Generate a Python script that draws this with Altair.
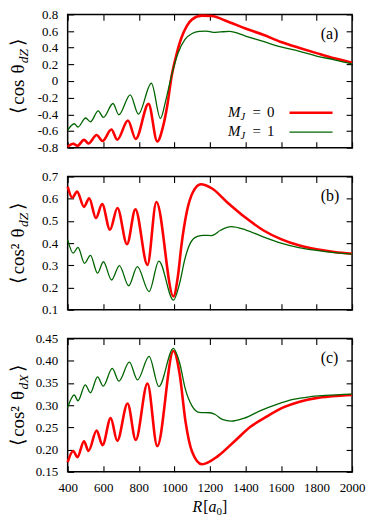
import altair as alt
import pandas as pd

# ---------------- data ----------------
XTICKS = [400, 600, 800, 1000, 1200, 1400, 1600, 1800, 2000]

# panel (a)  <cos theta_dZ>
A_R_RED = [400, 431, 455, 492, 517, 563, 596, 646, 679, 739, 783, 855, 904, 935, 960, 985,
           1010, 1040, 1070, 1100, 1155, 1210, 1300, 1400, 1500, 1600, 1700, 1800, 1900, 2000]
A_V_RED = [-0.79, -0.753, -0.778, -0.707, -0.75, -0.649, -0.72, -0.583, -0.705, -0.475, -0.695,
           -0.274, -0.726, -0.56, -0.30, 0.06, 0.30, 0.52, 0.66, 0.74, 0.785, 0.78, 0.715, 0.63,
           0.555, 0.468, 0.40, 0.335, 0.272, 0.22]
A_R_GRN = [400, 437, 458, 501, 528, 572, 601, 655, 688, 752, 798, 871, 922, 950, 986, 1020,
           1060, 1100, 1140, 1180, 1220, 1260, 1310, 1400, 1500, 1600, 1700, 1800, 1900, 2000]
A_V_GRN = [-0.59, -0.513, -0.552, -0.444, -0.49, -0.359, -0.437, -0.27, -0.405, -0.166, -0.397,
           -0.027, -0.45, -0.25, 0.08, 0.33, 0.50, 0.57, 0.595, 0.60, 0.585, 0.59, 0.595, 0.54,
           0.475, 0.41, 0.36, 0.30, 0.255, 0.205]
A_YTICKS = [-0.8, -0.6, -0.4, -0.2, 0, 0.2, 0.4, 0.6, 0.8]

# panel (b)  <cos^2 theta_dZ>
B_R_RED = [400, 426, 453, 492, 521, 559, 594, 638, 680, 734, 781, 849, 899, 995, 1020, 1040,
           1070, 1105, 1150, 1210, 1300, 1400, 1500, 1600, 1700, 1800, 1900, 2000]
B_V_RED = [0.654, 0.604, 0.632, 0.563, 0.602, 0.513, 0.576, 0.46, 0.558, 0.395, 0.552, 0.302,
           0.585, 0.16, 0.25, 0.39, 0.54, 0.63, 0.665, 0.647, 0.582, 0.515, 0.458, 0.418, 0.39,
           0.372, 0.36, 0.352]
B_R_GRN = [400, 431, 458, 495, 528, 568, 601, 647, 691, 743, 792, 858, 913, 995, 1030, 1060,
           1090, 1130, 1165, 1210, 1260, 1320, 1400, 1500, 1600, 1700, 1800, 1900, 2000]
B_V_GRN = [0.416, 0.355, 0.381, 0.309, 0.345, 0.265, 0.316, 0.234, 0.299, 0.208, 0.294, 0.182,
           0.319, 0.143, 0.22, 0.33, 0.40, 0.43, 0.435, 0.434, 0.458, 0.474, 0.46, 0.428, 0.40,
           0.38, 0.367, 0.357, 0.35]
B_YTICKS = [0.1, 0.2, 0.3, 0.4, 0.5, 0.6, 0.7]

# panel (c)  <cos^2 theta_dX>
C_R_RED = [400, 431, 455, 492, 517, 563, 596, 642, 679, 737, 783, 849, 904, 995, 1030, 1063,
           1100, 1155, 1247, 1339, 1430, 1522, 1613, 1705, 1797, 1888, 2000]
C_V_RED = [0.172, 0.197, 0.183, 0.219, 0.197, 0.243, 0.21, 0.271, 0.22, 0.304, 0.222, 0.349,
           0.208, 0.422, 0.37, 0.263, 0.195, 0.167, 0.186, 0.219, 0.252, 0.275, 0.295, 0.308,
           0.316, 0.32, 0.323]
C_R_GRN = [400, 437, 458, 499, 528, 568, 600, 651, 688, 747, 793, 858, 913, 995, 1030, 1063,
           1100, 1140, 1200, 1230, 1270, 1320, 1394, 1485, 1577, 1668, 1760, 1850, 2000]
C_V_GRN = [0.295, 0.323, 0.31, 0.346, 0.328, 0.364, 0.343, 0.383, 0.354, 0.397, 0.357, 0.41,
           0.342, 0.428, 0.395, 0.335, 0.298, 0.284, 0.283, 0.279, 0.268, 0.264, 0.271, 0.288,
           0.302, 0.313, 0.319, 0.322, 0.325]
C_YTICKS = [0.15, 0.2, 0.25, 0.3, 0.35, 0.4, 0.45]

LEGEND = ["0", "1"]

# ---------------- styling ----------------
FONT = "Liberation Serif, Times New Roman, serif"
W, H, GAP = 286, 134, 29
RED, GREEN = "#ff0000", "#006400"
TICK_FS = 13
TITLE_FS = 19
SUB_FS = 13.5

CW = {"c": .444, "o": .5, "s": .389, " ": .25, "\u03b8": .5, "\u00b2": .3, "d": .5, "Z": .556,
      "X": .611, "\u27e8": .39, "\u27e9": .39, "R": .611, "[": .333, "a": .5, "0": .5, "]": .333}


def tw(s, size):
    return sum(CW.get(ch, 0.5) for ch in s) * size


def txt(t, x, y, size, italic=False, angle=0, align="left", baseline="alphabetic"):
    kw = dict(text=t, font=FONT, fontSize=size, color="black", align=align, baseline=baseline)
    if italic:
        kw["fontStyle"] = "italic"
    if angle:
        kw["angle"] = angle
    return alt.Chart(pd.DataFrame({"k": [0]})).mark_text(**kw).encode(
        x=alt.value(x), y=alt.value(y))


def ytitle(pieces, xbase, center):
    # pieces: (text, size, italic, shift toward subscript, gap after)
    total = sum(tw(p[0], p[1]) + p[4] for p in pieces)
    y = center + total / 2
    out = []
    for t, size, it, sh, g in pieces:
        out.append(txt(t, xbase + sh, y, size, italic=it, angle=270))
        y -= tw(t, size) + g
    return out


def panel(rr, vr, rg, vg, ydom, yticks, lexpr, show_x, extra):
    xs = alt.Scale(domain=[400, 2000], nice=False, zero=False)
    ys = alt.Scale(domain=ydom, nice=False, zero=False)
    common = dict(offset=-6, tickSize=6, domain=False, grid=False, title=None,
                  tickColor="black", tickWidth=1.1)
    red = alt.Chart(pd.DataFrame({"R": rr, "v": vr})).mark_line(
        color=RED, strokeWidth=2.6, interpolate="monotone").encode(
        x=alt.X("R:Q", scale=xs, axis=alt.Axis(
            orient="bottom", values=XTICKS, format="d", labels=show_x, labelPadding=10,
            labelFont=FONT, labelFontSize=TICK_FS, labelColor="black", labelFlush=False,
            labelOverlap=False, **common)),
        y=alt.Y("v:Q", scale=ys, axis=alt.Axis(
            orient="left", values=yticks, labelExpr=lexpr, labelPadding=10,
            labelFont=FONT, labelFontSize=TICK_FS, labelColor="black", labelFlush=False,
            labelOverlap=False, **common)))
    grn = alt.Chart(pd.DataFrame({"R": rg, "v": vg})).mark_line(
        color=GREEN, strokeWidth=1.3, interpolate="monotone").encode(
        x=alt.X("R:Q", scale=xs, axis=alt.Axis(orient="top", values=XTICKS, labels=False, **common)),
        y=alt.Y("v:Q", scale=ys, axis=alt.Axis(orient="right", values=yticks, labels=False, **common)))
    return alt.layer(red, grn, *extra).resolve_axis(x="independent", y="independent").properties(
        width=W, height=H)


k = H / 138.0
kx = W / 291.0
TX = -44

# panel a extras
ea = ytitle([("\u27e8", TITLE_FS, False, 0, 2), ("cos", TITLE_FS, False, 0, 6),
             ("\u03b8", TITLE_FS, False, 0, 1), ("dZ", SUB_FS, True, 4, 3),
             ("\u27e9", TITLE_FS, False, 0, 0)], TX, H * 0.465)
ea.append(txt("(a)", 277 * kx, 25 * k, 16, align="right"))
for i, lab in enumerate(LEGEND):
    yb = (106 + 20 * i) * k
    ea.append(txt("M", 164 * kx, yb, 15, italic=True))
    ea.append(txt("J", 164 * kx + 12.5, yb + 3, 10.5, italic=True))
    ea.append(txt("=", 189 * kx, yb, 15))
    ea.append(txt(lab, 204 * kx, yb, 15))
    col = RED if i == 0 else GREEN
    sw = 2.6 if i == 0 else 1.3
    ea.append(alt.Chart(pd.DataFrame({"k": [0]})).mark_rule(color=col, strokeWidth=sw).encode(
        x=alt.value(227 * kx), x2=alt.value(271 * kx), y=alt.value(yb - 4)))

eb = ytitle([("\u27e8", TITLE_FS, False, 0, 2), ("cos\u00b2", TITLE_FS, False, 0, 6),
             ("\u03b8", TITLE_FS, False, 0, 1), ("dZ", SUB_FS, True, 4, 3),
             ("\u27e9", TITLE_FS, False, 0, 0)], TX, H / 2)
eb.append(txt("(b)", 278 * kx, 25 * k, 16, align="right"))

ec = ytitle([("\u27e8", TITLE_FS, False, 0, 2), ("cos\u00b2", TITLE_FS, False, 0, 6),
             ("\u03b8", TITLE_FS, False, 0, 1), ("dX", SUB_FS, True, 4, 3),
             ("\u27e9", TITLE_FS, False, 0, 0)], TX, H / 2)
ec.append(txt("(c)", 277 * kx, 25 * k, 16, align="right"))
# x-axis title R[a_0]
xt = [("R", 16, True, 0), ("[", 16, False, 0), ("a", 16, True, 0), ("0", 11, False, 3), ("]", 16, False, 0)]
tot = sum(tw(t, s) for t, s, _, _ in xt)
cx = 145 * kx - tot / 2
for t, s, it, sh in xt:
    ec.append(txt(t, cx, H + 40 + sh, s, italic=it))
    cx += tw(t, s) + (1 if t == "R" else 0)

pa = panel(A_R_RED, A_V_RED, A_R_GRN, A_V_GRN, [-0.8, 0.8], A_YTICKS,
           "datum.value == 0 ? '0' : (datum.value < 0 ? '-' : '') + format(abs(datum.value), '.1f')",
           False, ea)
pb = panel(B_R_RED, B_V_RED, B_R_GRN, B_V_GRN, [0.1, 0.7], B_YTICKS,
           "format(datum.value, '.1f')", False, eb)
pc = panel(C_R_RED, C_V_RED, C_R_GRN, C_V_GRN, [0.15, 0.45], C_YTICKS,
           "format(datum.value, '.2f')", True, ec)

chart = alt.vconcat(pa, pb, pc, spacing=GAP, bounds="flush").properties(
    padding={"left": 0, "top": -2, "right": 0, "bottom": 0},
    background="white",
).configure_view(stroke="black", strokeWidth=1.5, fill=None)

chart.save("out.html", embed_options={"renderer": "svg", "actions": False})
